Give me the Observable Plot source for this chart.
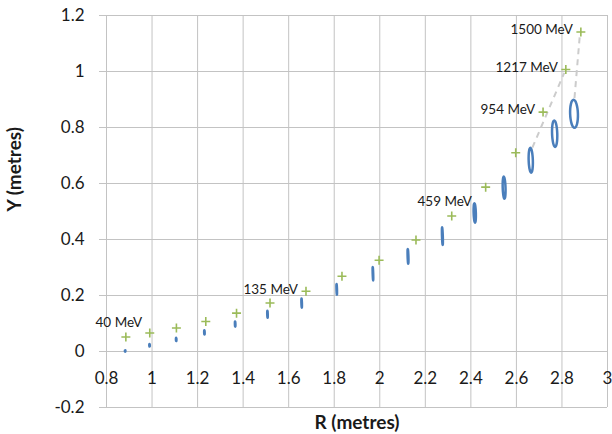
<!DOCTYPE html>
<html>
<head>
<meta charset="utf-8">
<script src="https://cdn.jsdelivr.net/npm/d3@7"></script>
<script src="https://cdn.jsdelivr.net/npm/@observablehq/plot@0.6"></script>
<style>
  html, body { margin: 0; padding: 0; background: #fff; }
  #chart { width: 612px; height: 434px; }
</style>
</head>
<body>
<div id="chart"></div>
<script>
// ---- data ----
const xTicks = [0.8, 1, 1.2, 1.4, 1.6, 1.8, 2, 2.2, 2.4, 2.6, 2.8, 3];
const yTicks = [-0.2, 0, 0.2, 0.4, 0.6, 0.8, 1, 1.2];

// green "+" markers (R, Y in metres)
const plusR = [0.885, 0.99, 1.107, 1.236, 1.371, 1.518, 1.676, 1.834, 1.997, 2.159, 2.316, 2.465, 2.597, 2.717, 2.817, 2.883];
const plusY = [0.052, 0.066, 0.084, 0.107, 0.137, 0.173, 0.215, 0.269, 0.326, 0.398, 0.484, 0.587, 0.71, 0.855, 1.007, 1.141];

// blue ellipses: centre, full width (R), full height (Y)
const ellR = [0.882, 0.989, 1.106, 1.230, 1.365, 1.507, 1.657, 1.811, 1.970, 2.124, 2.275, 2.417, 2.546, 2.663, 2.768, 2.853];
const ellY = [0.002, 0.022, 0.043, 0.068, 0.098, 0.133, 0.173, 0.222, 0.278, 0.340, 0.412, 0.495, 0.585, 0.683, 0.778, 0.849];
const ellW = [0.0022, 0.0022, 0.0022, 0.0022, 0.0022, 0.0022, 0.0022, 0.0022, 0.0022, 0.0035, 0.0035, 0.0097, 0.0123, 0.0184, 0.0228, 0.0342];
const ellH = [0.0054, 0.0089, 0.0114, 0.015, 0.0186, 0.0243, 0.0328, 0.0385, 0.0482, 0.0528, 0.0635, 0.0696, 0.0792, 0.0885, 0.0946, 0.1006];

// energy labels attached to "+" markers
const labelText = ["40 MeV", "135 MeV", "459 MeV", "954 MeV", "1217 MeV", "1500 MeV"];
const labelPoint = [0, 6, 10, 13, 14, 15];
const labelSide = ["above", "left", "above", "left", "left", "left"];

// dashed grey guide segments
const dashR1 = [2.670, 2.855];
const dashY1 = [0.728, 0.905];
const dashR2 = [2.810, 2.878];
const dashY2 = [0.995, 1.125];

// ---- build tables ----
const plusPts = plusR.map((r, i) => ({r, y: plusY[i]}));
const shear = -0.04;
const ellPts = [];
ellR.forEach((cx, i) => {
  const cy = ellY[i], rx = ellW[i] / 2, ry = ellH[i] / 2;
  for (let k = 0; k < 16; k++) {
    const a = (k / 16) * 2 * Math.PI;
    const dy = ry * Math.sin(a);
    ellPts.push({id: i, r: cx + rx * Math.cos(a) + shear * dy, y: cy + dy});
  }
});
const labels = labelText.map((t, i) => ({text: t, r: plusR[labelPoint[i]], y: plusY[labelPoint[i]], side: labelSide[i]}));
const dashes = dashR1.map((r1, i) => ({r1, y1: dashY1[i], r2: dashR2[i], y2: dashY2[i]}));

const gridColor = "#c3c3c3";
const textColor = "#1a1a1a";
const font = "Lato, 'Open Sans', sans-serif";

const chart = Plot.plot({
  width: 612,
  height: 434,
  marginLeft: 106,
  marginRight: 5,
  marginTop: 15,
  marginBottom: 27,
  style: {fontFamily: font, background: "#fff", color: textColor},
  x: {domain: [0.8, 3], axis: null},
  y: {domain: [-0.2, 1.2], axis: null},
  marks: [
    Plot.gridX(xTicks, {stroke: gridColor, strokeOpacity: 1, strokeWidth: 1}),
    Plot.gridY(yTicks, {stroke: gridColor, strokeOpacity: 1, strokeWidth: 1}),
    Plot.axisY(yTicks, {anchor: "left", tickSize: 7, tickPadding: 15, stroke: gridColor, fill: textColor,
      fontSize: 17, tickFormat: d => `${d}`, label: null}),
    Plot.text(xTicks, {x: d => d, frameAnchor: "bottom", dy: -29, text: d => `${d}`, fontSize: 17, fill: textColor, lineAnchor: "middle"}),
    Plot.text(["R (metres)"], {frameAnchor: "bottom", dy: 15, fontSize: 19, fontWeight: "bold", fill: textColor, lineAnchor: "middle"}),
    Plot.text(["Y (metres)"], {frameAnchor: "left", dx: -92, rotate: -90, fontSize: 19, fontWeight: "bold", fill: textColor, lineAnchor: "middle"}),
    Plot.link(dashes, {x1: "r1", y1: "y1", x2: "r2", y2: "y2", stroke: "#cccccc", strokeWidth: 2, strokeDasharray: "6,5"}),
    Plot.line(ellPts, {x: "r", y: "y", z: "id", curve: "catmull-rom-closed", stroke: "#4a7ebb", strokeWidth: 2.5}),
    Plot.dot(plusPts, {x: "r", y: "y", symbol: "plus", r: 3, stroke: "#9bbb59", strokeWidth: 1.6}),
    Plot.text(labels.filter(d => d.side === "left"), {x: "r", y: "y", text: "text", textAnchor: "end", dx: -8, dy: -2, fontSize: 13.5, fill: textColor}),
    Plot.text(labels.filter(d => d.side === "above"), {x: "r", y: "y", text: "text", textAnchor: "middle", dx: -7, dy: -14, fontSize: 13.5, fill: textColor})
  ]
});
document.getElementById("chart").appendChild(chart);
</script>
</body>
</html>
